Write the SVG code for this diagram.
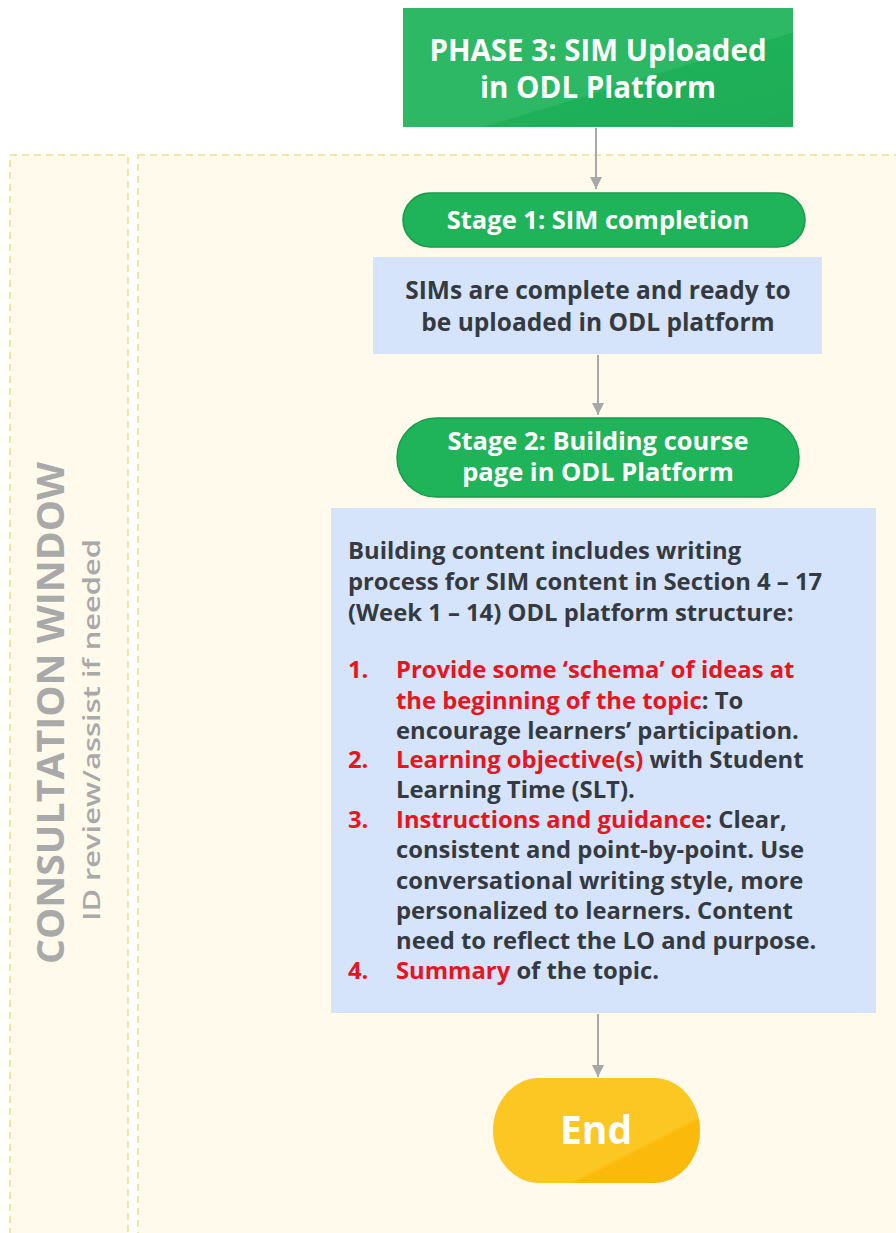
<svg xmlns="http://www.w3.org/2000/svg" width="896" height="1233" viewBox="0 0 896 1233">
  <defs>
    <style>
      .lane { fill: #fffaec; stroke: #f3dc8e; stroke-width: 1.5; stroke-dasharray: 7 5; }
      .green { fill: #1fb45a; }
      .pill { fill: #1fb45a; stroke: #179c4c; stroke-width: 1.5; }
      .note { fill: #d6e4fb; }
      .wt { font-family: "Open Sans", "Liberation Sans", sans-serif; font-weight: 700; fill: #ffffff; text-anchor: middle; }
      .dk { font-family: "Open Sans", "Liberation Sans", sans-serif; font-weight: 700; fill: #343a40; }
      .red { fill: #e8141e; }
      .lab { font-family: "Open Sans", "Liberation Sans", sans-serif; fill: #a9a9a9; text-anchor: middle; }
      .conn { stroke: #a8a8a8; stroke-width: 2; fill: none; marker-end: url(#arrow); }
    </style>
    <marker id="arrow" viewBox="0 0 10 10" refX="10" refY="5" markerWidth="6" markerHeight="6" markerUnits="strokeWidth" orient="auto">
      <path d="M0,0 L10,5 L0,10 z" fill="#a8a8a8"/>
    </marker>
    <linearGradient id="sheen" x1="0" y1="0" x2="1" y2="1">
      <stop offset="0" stop-color="#ffffff" stop-opacity="0.06"/>
      <stop offset="0.6" stop-color="#ffffff" stop-opacity="0.06"/>
      <stop offset="0.61" stop-color="#000000" stop-opacity="0.02"/>
      <stop offset="1" stop-color="#000000" stop-opacity="0.04"/>
    </linearGradient>
    <linearGradient id="endFill" x1="0" y1="0" x2="1" y2="1">
      <stop offset="0" stop-color="#fcc623"/>
      <stop offset="0.68" stop-color="#fcc623"/>
      <stop offset="0.7" stop-color="#fbb90c"/>
      <stop offset="1" stop-color="#fbb90c"/>
    </linearGradient>
  </defs>

  <rect width="896" height="1233" fill="#ffffff"/>

  <!-- swimlanes -->
  <g id="lane-consultation">
    <rect class="lane" x="10" y="155" width="118" height="1100"/>
    <text class="lab" transform="translate(51,713) rotate(-90)" y="13" font-size="37" font-weight="700" textLength="502" lengthAdjust="spacingAndGlyphs">CONSULTATION WINDOW</text>
    <text class="lab" transform="translate(92,730) rotate(-90)" y="8" font-size="24" font-weight="600" textLength="382" lengthAdjust="spacingAndGlyphs">ID review/assist if needed</text>
  </g>
  <g id="lane-main">
    <rect class="lane" x="138" y="155" width="780" height="1100"/>
  </g>

  <!-- connectors -->
  <g id="connectors">
    <path class="conn" d="M596,128 V189"/>
    <path class="conn" d="M598,355 V415"/>
    <path class="conn" d="M598,1014 V1077"/>
  </g>

  <g id="phase3">
    <rect class="green" x="403" y="8" width="390" height="119"/>
    <rect x="403" y="8" width="390" height="119" fill="url(#sheen)"/>
    <text class="wt" x="598" y="61" font-size="29.5">PHASE 3: SIM Uploaded</text>
    <text class="wt" x="598" y="98" font-size="29.5">in ODL Platform</text>
  </g>

  <g id="stage1">
    <rect class="pill" x="403" y="193" width="402" height="54" rx="27"/>
    <text class="wt" x="598" y="229" font-size="25.5">Stage 1: SIM completion</text>
  </g>

  <g id="stage1-note">
    <rect class="note" x="373" y="257" width="449" height="97"/>
    <text class="dk" x="598" y="299" font-size="24.5" text-anchor="middle">SIMs are complete and ready to</text>
    <text class="dk" x="598" y="331" font-size="24.5" text-anchor="middle">be uploaded in ODL platform</text>
  </g>

  <g id="stage2">
    <rect class="pill" x="397" y="418" width="402" height="79" rx="39.5"/>
    <text class="wt" x="598" y="450" font-size="25.5">Stage 2: Building course</text>
    <text class="wt" x="598" y="481" font-size="25.5">page in ODL Platform</text>
  </g>

  <g id="stage2-note">
    <rect class="note" x="331" y="508" width="545" height="505"/>
    <g class="dk" font-size="23.8">
      <text x="348" y="559">Building content includes writing</text>
      <text x="348" y="590">process for SIM content in Section 4 – 17</text>
      <text x="348" y="621">(Week 1 – 14) ODL platform structure:</text>

      <text x="348" y="678" class="red">1.</text>
      <text x="396" y="678" class="red">Provide some ‘schema’ of ideas at</text>
      <text x="396" y="709"><tspan class="red">the beginning of the topic</tspan>: To</text>
      <text x="396" y="739">encourage learners’ participation.</text>

      <text x="348" y="768" class="red">2.</text>
      <text x="396" y="768"><tspan class="red">Learning objective(s)</tspan> with Student</text>
      <text x="396" y="798">Learning Time (SLT).</text>

      <text x="348" y="828" class="red">3.</text>
      <text x="396" y="828"><tspan class="red">Instructions and guidance</tspan>: Clear,</text>
      <text x="396" y="858">consistent and point-by-point. Use</text>
      <text x="396" y="889">conversational writing style, more</text>
      <text x="396" y="919">personalized to learners. Content</text>
      <text x="396" y="949">need to reflect the LO and purpose.</text>

      <text x="348" y="979" class="red">4.</text>
      <text x="396" y="979"><tspan class="red">Summary</tspan> of the topic.</text>
    </g>
  </g>

  <g id="end">
    <rect x="493" y="1078" width="207" height="105" rx="46" ry="52.5" fill="url(#endFill)"/>
    <text class="wt" x="596" y="1144" font-size="39">End</text>
  </g>
</svg>
